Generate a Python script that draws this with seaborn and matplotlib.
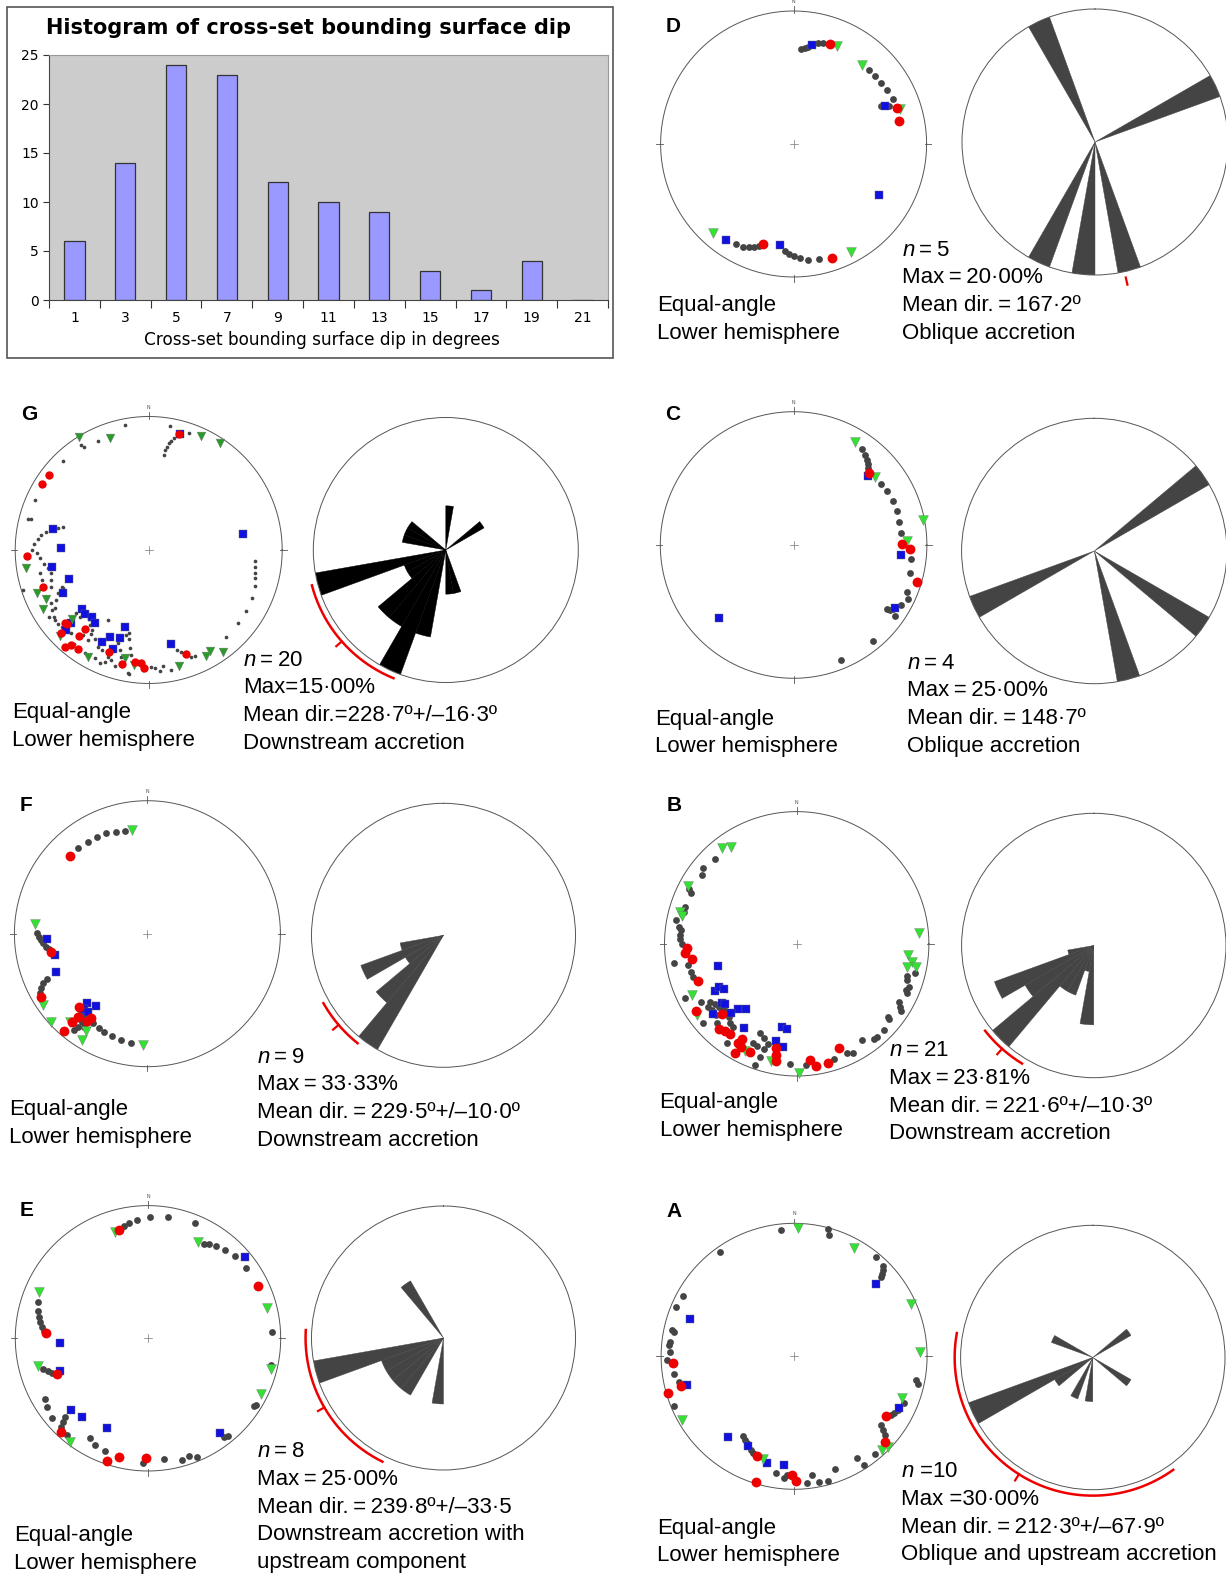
import numpy as np
import pandas as pd
import matplotlib
matplotlib.use("Agg")
import matplotlib.pyplot as plt
import seaborn as sns
from matplotlib.patches import Rectangle

# ---------------- histogram data ----------------
dip_bins = ['1', '3', '5', '7', '9', '11', '13', '15', '17', '19', '21']
dip_counts = [6, 14, 24, 23, 12, 10, 9, 3, 1, 4, 0]

# ---------------- stereonet data (trend, plunge) ----------------
D_GRAY = [(4.5, 19), (6.6, 18), (8.3, 17), (11, 15), (13.6, 14), (16.5, 13.5),
          (45.8, 13), (50, 13), (55, 12.4), (60.2, 12), (65.7, 11.5),
          (66.5, 19), (67.2, 17.5), (67.8, 16), (68.4, 14.5),
          (210, 8), (206, 8.6), (203.6, 9.6), (200.9, 10.9), (198.6, 12),
          (184.4, 12.4), (182.4, 11), (180, 9.6), (176.8, 8.8), (172.8, 7.6), (167.8, 6.8)]
D_RED = [(20, 12.7), (70.9, 11), (77.7, 11.8), (197, 13.5), (161.3, 5.8)]
D_BLUE = [(10.3, 16), (67.5, 16.5), (121, 16.3), (215, 7.2), (187.8, 15)]
D_GREEN = [(24, 12), (40.8, 13.5), (71.8, 9.6), (222.1, 6), (152, 5)]

C_GRAY = [(35.4, 7.2), (38.3, 8.6), (40.6, 9.8), (42.4, 11), (44.3, 12.5), (55.2, 12.5), (60, 12),
          (65.9, 11.7), (71.6, 11.6), (77.6, 11.8), (83.4, 11.8), (97, 6.8), (103.7, 6), (112.4, 5),
          (115.3, 3.1), (119, 4.5), (121.9, 6), (124.6, 9.2), (123.7, 7.8), (122.9, 7), (125.1, 4.4),
          (140.4, 4), (157.6, 4)]
C_RED = [(46.5, 14), (89.4, 11.8), (92, 7.8), (106.8, 2)]
C_BLUE = [(47.3, 15.2), (95.2, 12), (121.9, 6.2), (225.8, 14)]
C_GREEN = [(30.9, 5.8), (50.3, 13), (79, 0.8), (87.8, 9.4)]

G_GRAY = [(349.4, 2.8), (9.9, 3.4), (19, 4.3), (335, 6), (327.2, 3.6), (327.8, 5.5), (316.2, 4.4),
          (293.7, 4.1), (284.4, 4), (284.8, 5.5),
          (12.6, 8.8), (11.7, 10.5), (10.8, 11.8), (10, 13.7), (9.5, 15.6), (9, 18.6),
          (95.9, 12.6), (98.9, 12.2), (102, 11.5), (104.8, 10.9), (108.9, 9.8), (114.7, 9),
          (121.9, 8.5), (129.3, 8.2), (138.3, 7.7), (158.5, 8.3),
          (164.4, 14.3), (162.3, 12.4), (156.5, 8.3),
          (177.1, 6.9), (173, 7.6), (169.3, 5.1), (189.2, 3.6),
          (283.8, 20.2), (285.2, 22.5),
          (280.1, 14.1), (277.9, 11.9), (275.5, 10.2), (273, 8.7), (270, 7.7), (268.3, 10),
          (265.6, 11.4), (262.4, 13.3), (259.7, 15), (256.6, 16), (253, 15), (249.5, 14),
          (247.2, 19.5), (245.9, 19.8), (244.5, 16), (241.6, 13.6), (238.2, 11), (234.8, 8.3),
          (241.4, 10.3), (238.2, 9.3), (233.3, 7.5), (230.7, 7.6), (228.7, 8),
          (252.3, 0.8), (236, 6.1), (225.8, 6.1), (218.4, 6.2), (211.8, 5.4), (206.4, 6), (201.5, 6),
          (228.8, 18.5), (225.7, 18.4), (220.9, 21), (218.2, 19.1), (215.6, 17.3),
          (214.5, 15.6), (210.8, 14.1), (214, 11.9), (217.7, 12.4), (207.7, 11.5), (205.2, 10.6),
          (200.9, 9), (198.7, 8), (198.2, 17.6), (196.2, 14), (194.4, 11), (194.7, 23.3),
          (193.5, 25), (192.6, 21.2), (190.9, 16.3), (189.7, 12.9),
          (222.9, 9.3), (254.4, 10.4), (257.9, 10.4),
          (189.5, 3.8), (182.7, 6), (178.7, 7.3), (174.8, 5.5), (196.2, 5.5), (203.4, 4.5), (210, 27.5)]
G_RED = [(14.6, 6.2), (307, 3.7), (301.7, 3.8), (267.4, 5.4), (250.6, 10), (228.8, 10.4), (227.7, 11),
         (226.6, 5.6), (218.9, 15.5), (219, 10.5), (219.2, 5), (220.6, 2.4), (215.5, 5.3),
         (201.5, 11.4), (193.2, 7.4), (186.8, 9.8), (184, 9.3), (182.3, 6.9), (160.5, 10.7)]
G_BLUE = [(15.3, 6), (80.5, 19), (282.1, 17.5), (271.5, 23.6), (260.3, 17.4), (250.4, 25), (243.4, 18.7),
          (228.3, 22.6), (225, 22), (220, 23.5), (216.4, 21.5), (226.8, 13.1), (226, 8.5), (197.2, 27.5),
          (203.9, 19.3), (207, 14.8), (197.8, 20.5), (199.9, 13.7), (166.8, 18.5)]
G_GREEN = [(328.3, 0.5), (341.1, 6.8), (24.5, 3.7), (33.7, 2), (261.5, 4.2), (248.7, 6.4), (244.4, 9.3),
           (240.7, 5.6), (227.7, 14.6), (226, 4.4), (209.6, 4.9), (192.3, 11), (187.4, 8), (165.6, 6),
           (151.8, 6), (148.5, 7), (144, 3.5)]

F_GRAY = [(321.1, 10.8), (327, 10.9), (332.7, 11.2), (337.8, 11.6), (342.9, 12.5), (347.5, 13.1),
          (270.6, 10.7), (268.4, 11.7), (266.6, 12.7), (264.7, 13.6), (262.7, 15), (261, 16.3),
          (245.5, 10.7), (244.5, 8.1), (242.8, 6), (240.9, 4.6),
          (219.6, 14.2), (217.3, 13.2), (216.5, 10.7), (216.9, 7.7), (217.4, 5.3), (214.1, 9.6), (218.4, 11.3),
          (211.2, 13.9), (207.5, 13), (203.7, 12), (199.1, 11.6), (193.9, 11), (188.5, 10.3)]
F_RED = [(315, 10.8), (259, 17.2), (239.4, 4.1), (220.7, 2.2), (223, 15.9), (220, 11.6), (220.4, 8),
         (213.8, 15.2), (214.9, 12.9)]
F_BLUE = [(267.1, 15.9), (257.2, 19), (247.3, 16.6), (221.3, 20.7), (215.4, 22.8), (219.8, 16.9), (216.9, 17)]
F_GREEN = [(351.7, 13.5), (274.8, 9.5), (235.5, 2.9), (227.6, 1.1), (221.4, 7.1), (182.3, 10.1),
           (211.7, 3.5), (212.5, 8.3)]

B_GRAY = [(316, 6.5), (308.8, 5.2), (305.9, 6.8), (296.9, 5.1), (295.5, 6.9), (288.4, 6.7), (285.9, 7),
          (281.1, 4), (278.3, 5.9), (276.8, 7), (274.4, 7.2), (272.2, 7.3), (270, 7.9), (261.3, 3.5),
          (259, 10.1), (255.2, 10.7), (252.4, 11.3), (243.9, 3.7), (229.8, 4.1), (234.6, 11.3), (232, 11.8),
          (228.7, 11.6), (224.9, 9.3), (215.1, 4.7), (199.1, 1.7), (198, 6.2), (197.3, 10.2), (196.1, 13.3),
          (203.8, 11.2), (201.5, 10.8), (238.9, 9.4), (236.2, 13.5), (233.7, 15), (230.9, 16), (228, 17),
          (222.8, 15.7), (219.8, 13.9), (217.1, 13.2), (183.3, 5.4), (175.4, 4.8), (162, 4.8), (155, 5.5),
          (152.7, 4.4), (145.7, 7.3), (140.9, 4), (139.4, 4), (134.5, 4.2), (129.2, 5.8), (128.5, 7),
          (121.3, 5), (122.6, 3.7), (119.4, 6.6), (112.9, 6.4), (114.3, 5.2), (111, 5.6), (106.4, 8),
          (108, 7.4), (103.7, 4.6), (202.2, 17.8), (199.1, 15.8)]
B_RED = [(267.7, 10.5), (265.1, 9.5), (261.6, 12.9), (249.3, 13), (236.5, 5.1), (226.6, 14.4), (222.5, 7.7),
         (219.5, 9.2), (216.3, 9.5), (209.6, 10.5), (210.6, 7.6), (208.5, 7), (209.6, 3.2), (203.3, 6.7),
         (191.3, 12.2), (190.6, 8.8), (190.1, 6.1), (173.7, 7.1), (171.1, 3.8), (165.5, 3.9), (158.1, 9.1)]
B_BLUE = [(254.4, 26.7), (240.2, 19), (240.6, 22.3), (238.2, 24), (231.6, 18.7), (230, 19.5), (222.3, 23),
          (217.6, 26.2), (223.5, 18.6), (230, 10.8), (212.2, 16), (190.2, 24.5), (186.5, 23.8),
          (192.2, 16.3), (187.3, 13.4)]
B_GREEN = [(322, 4.9), (326, 6.9), (298, 4), (285, 5), (283.7, 6.6), (85.1, 4.3), (95.7, 9.3), (98.8, 7.1),
           (100.9, 4.9), (102.1, 9.3), (244, 7.1), (234.6, 4.2), (206, 6), (192.3, 5.7), (179, 1.4)]

E_GRAY = [(347.9, 8.3), (350.6, 7.4), (354.6, 6.2), (0.9, 5), (9.2, 4.2), (22.2, 3.5),
          (30.6, 10.7), (33.1, 9.4), (36.4, 8.3), (41, 7.2), (46.7, 6.1), (54.4, 5.6), (86.9, 4),
          (102.3, 3.1), (121.8, 2.6), (122.6, 3.1), (142.3, 3.7), (140.7, 2.9),
          (288.4, 7.6), (284.1, 8.8), (280.9, 10), (278.4, 11), (276.3, 12.3), (274.2, 13.6),
          (253.5, 11), (251.6, 13.2), (250.3, 14.7),
          (239.3, 5.9), (235.8, 4.5), (230.2, 3.4), (226.5, 8.7), (225.6, 6.1), (224.6, 3.8), (220, 2.8),
          (209.9, 8), (206.3, 6.2), (200.8, 5.6), (182.4, 3.6), (172.6, 4.8), (164.5, 2.9), (160.6, 3.5),
          (157.6, 1.7)]
E_RED = [(345, 9.6), (64.5, 5), (272.8, 14.6), (248.6, 17.2), (223, 2.2), (198.4, 1.6), (193.7, 4.6), (181, 5.7)]
E_BLUE = [(49.9, 2.6), (142.8, 6), (267.2, 22.7), (249.4, 19.2), (227.1, 13.3), (219.9, 14.8), (204.9, 16.8)]
E_GREEN = [(342.8, 10.2), (27.5, 11.3), (75.8, 4.7), (104.2, 2.7), (116.5, 3.1), (293.2, 6.4), (255.9, 8.8), (217, 1)]

A_GRAY = [(354.3, 2.6), (14.9, 0.7), (16, 3), (324.6, 2), (39.5, 2.1), (44.4, 2.9), (45.9, 4), (47, 5.5),
          (47.8, 7), (298.6, 2.8), (292.9, 2.3), (282.2, 3.7), (281.6, 4.7), (276.7, 3.4), (275.1, 3.1),
          (272.2, 4.1), (268.3, 2.4), (261.5, 5.3), (257.3, 6.6), (247.3, 1.3), (101, 4), (102.5, 2.5),
          (113.2, 6.3), (117.3, 7.3), (119.4, 8.4), (121.3, 9.3), (128.2, 10.4), (129.6, 8), (130.9, 5.8),
          (140.4, 2.8), (148.4, 6), (147.4, 1.7), (160.3, 5.8), (164.8, 1.8), (168.9, 2.3), (171.3, 5.9),
          (174.2, 2.6), (184.6, 4.8), (183.5, 6.4), (189, 6.6), (212.4, 19), (210.4, 17.9), (208.5, 16.7),
          (204.9, 14.2), (202.8, 13.2)]
A_RED = [(266.7, 5.5), (255.4, 7.3), (253.9, 0.7), (123, 11), (133.5, 3.5), (200.2, 12.8), (181.2, 6.5),
         (178.9, 3.9), (197.1, 0.8)]
A_BLUE = [(48.8, 11.2), (289.6, 10.8), (255, 10.6), (116.4, 7.3), (219.1, 13.7), (207.2, 15.7), (194, 10.7), (185.2, 11)]
A_GREEN = [(1.9, 2.2), (29, 4.3), (66, 2.3), (88, 3.2), (111.3, 8), (134, 1.3), (136.7, 1.9), (196.8, 12.1), (240.3, 1.9)]

# ---------------- rose data: bin start (deg) and percentage ----------------
D_ROSE_BIN = [330, 60, 200, 180, 160]
D_ROSE_PCT = [20, 20, 20, 20, 20]
C_ROSE_BIN = [50, 240, 120, 160]
C_ROSE_PCT = [25, 25, 25, 25]
G_ROSE_BIN = [0, 50, 280, 290, 300, 250, 240, 230, 220, 210, 200, 190, 160, 170]
G_ROSE_PCT = [5, 5, 5, 5, 5, 15, 5, 5, 10, 10, 15, 10, 5, 5]
F_ROSE_BIN = [250, 240, 230, 220, 210]
F_ROSE_PCT = [11.11, 22.22, 11.11, 22.22, 33.33]
B_ROSE_BIN = [250, 240, 230, 220, 210, 200, 190, 180]
B_ROSE_PCT = [4.76, 19.05, 14.29, 23.81, 9.52, 9.52, 4.76, 14.29]
E_ROSE_BIN = [320, 250, 240, 230, 220, 210, 180]
E_ROSE_PCT = [12.5, 25, 12.5, 12.5, 12.5, 12.5, 12.5]
A_ROSE_BIN = [240, 230, 290, 50, 120, 200, 180]
A_ROSE_PCT = [30, 10, 10, 10, 10, 10, 10]

T = '\u2009'  # thin space as in the original labels
D_TEXT = [f'$n${T}={T}5', f'Max{T}={T}20·00%', f'Mean dir.{T}={T}167·2º', 'Oblique accretion']
G_TEXT = [f'$n${T}={T}20', 'Max=15·00%', 'Mean dir.=228·7º+/–16·3º', 'Downstream accretion']
C_TEXT = [f'$n${T}={T}4', f'Max{T}={T}25·00%', f'Mean dir.{T}={T}148·7º', 'Oblique accretion']
F_TEXT = [f'$n${T}={T}9', f'Max{T}={T}33·33%', f'Mean dir.{T}={T}229·5º+/–10·0º', 'Downstream accretion']
B_TEXT = [f'$n${T}={T}21', f'Max{T}={T}23·81%', f'Mean dir.{T}={T}221·6º+/–10·3º', 'Downstream accretion']
E_TEXT = [f'$n${T}={T}8', f'Max{T}={T}25·00%', f'Mean dir.{T}={T}239·8º+/–33·5', 'Downstream accretion with',
          'upstream component']
A_TEXT = [f'$n$ =10', 'Max =30·00%', f'Mean dir.{T}={T}212·3º+/–67·9º', 'Oblique and upstream accretion']

plt.rcParams['font.family'] = ['Liberation Sans', 'DejaVu Sans']
plt.rcParams['mathtext.fontset'] = 'custom'
plt.rcParams['mathtext.it'] = 'Liberation Sans:italic'
plt.rcParams['mathtext.rm'] = 'Liberation Sans'

W, H = 1226, 1576
fig = plt.figure(figsize=(W / 100, H / 100), dpi=100)


def box(left, top, right, bottom):
    return [left / W, 1 - bottom / H, (right - left) / W, (bottom - top) / H]


def ftext(x, y, s, **kw):
    fig.text(x / W, 1 - y / H, s, **kw)


# ---------------- histogram ----------------
ax = fig.add_axes(box(49, 55, 608, 300))
df = pd.DataFrame({'dip': dip_bins, 'count': dip_counts})
sns.barplot(data=df, x='dip', y='count', order=dip_bins, color='#9999ff', saturation=1,
            edgecolor='#333333', linewidth=0.9, width=0.4, ax=ax)
ax.set_facecolor('#cccccc')
ax.set_xlim(-0.5, 10.5)
ax.set_ylim(0, 25)
ax.set_yticks(range(0, 26, 5))
ax.set_xticks(np.arange(-0.5, 11, 1))
ax.set_xticklabels([])
ax.set_xticks(range(11), minor=True)
ax.set_xticklabels(dip_bins, minor=True, family='DejaVu Sans')
ax.tick_params(axis='x', which='major', length=6, color='#333333')
ax.tick_params(axis='x', which='minor', length=0, labelsize=10, pad=8)
ax.tick_params(axis='y', length=4, labelsize=10, color='#333333')
for lab in ax.get_yticklabels():
    lab.set_family('DejaVu Sans')
ax.set_xlabel('')
ax.set_ylabel('')
for s in ['left', 'bottom']:
    ax.spines[s].set_color('#444444')
for s in ['top', 'right']:
    ax.spines[s].set_color('#999999')
ftext(309, 28, 'Histogram of cross-set bounding surface dip', ha='center', va='center',
      fontsize=15, fontweight='bold', family='DejaVu Sans')
ftext(322, 340, 'Cross-set bounding surface dip in degrees', ha='center', va='center',
      fontsize=12.2, family='DejaVu Sans')
fig.add_artist(Rectangle((7 / W, 1 - 358 / H), 606 / W, 351 / H, transform=fig.transFigure,
                         fill=False, edgecolor='#555555', lw=1.2))


# ---------------- stereonets and roses ----------------
def project(pts):
    a = np.array(pts, dtype=float).reshape(-1, 2)
    r = np.tan(np.radians(45 - a[:, 1] / 2))
    t = np.radians(a[:, 0])
    return r * np.sin(t), r * np.cos(t)


def stereonet(cx, cy, r, gray, red, blue, green, dense=False):
    pad = 1.15
    ax = fig.add_axes(box(cx - pad * r, cy - pad * r, cx + pad * r, cy + pad * r))
    ax.set_xlim(-pad, pad)
    ax.set_ylim(-pad, pad)
    ax.set_aspect('equal')
    ax.axis('off')
    t = np.linspace(0, 2 * np.pi, 400)
    ax.plot(np.cos(t), np.sin(t), color='#555555', lw=0.7)
    for a in np.radians([0, 90, 180, 270]):
        ax.plot([0.985 * np.sin(a), 1.035 * np.sin(a)], [0.985 * np.cos(a), 1.035 * np.cos(a)],
                color='#555555', lw=0.6)
    ax.plot([-0.03, 0.03], [0, 0], color='#777777', lw=0.5)
    ax.plot([0, 0], [-0.03, 0.03], color='#777777', lw=0.5)
    ax.text(0, 1.07, 'N', ha='center', va='center', fontsize=3.5, color='#444444')
    if dense:
        sg, sr, sb, sv, gcol = 7, 36, 32, 40, '#2a9a2a'
    else:
        sg, sr, sb, sv, gcol = 24, 50, 36, 50, '#33e033'
    x, y = project(gray)
    ax.scatter(x, y, s=sg, color='#444444', linewidths=0, zorder=3)
    x, y = project(blue)
    ax.scatter(x, y, s=sb, marker='s', color='#1010e0', edgecolors='#666666', linewidths=0.3, zorder=4)
    x, y = project(green)
    ax.scatter(x, y, s=sv, marker='v', color=gcol, edgecolors='#777777', linewidths=0.3, zorder=4)
    x, y = project(red)
    ax.scatter(x, y, s=sr, color='#ee0000', linewidths=0, zorder=5)


def rose(cx, cy, r, bins, pct, rmax, mean=None, hw=None, color='#444444'):
    ax = fig.add_axes(box(cx - r, cy - r, cx + r, cy + r), projection='polar')
    ax.set_theta_zero_location('N')
    ax.set_theta_direction(-1)
    ax.bar(np.radians(np.array(bins) + 5), pct, width=np.radians(10), color=color,
           edgecolor=color, linewidth=0.3)
    ax.set_ylim(0, rmax)
    ax.grid(False)
    ax.set_xticks([])
    ax.set_yticks([])
    ax.spines['polar'].set_color('#555555')
    ax.spines['polar'].set_linewidth(0.7)
    if mean is not None:
        if hw:
            th = np.radians(np.linspace(mean - hw, mean + hw, 200))
            ax.plot(th, np.full_like(th, 1.045 * rmax), color='#ee0000', lw=1.8, clip_on=False)
        ax.plot([np.radians(mean)] * 2, [1.045 * rmax, 1.10 * rmax], color='#ee0000', lw=1.6,
                clip_on=False)


def texts(letter, lab, eq, sx, sy, lines):
    ftext(lab[0], lab[1], letter, ha='center', va='center', fontsize=15, fontweight='bold')
    ftext(eq[0], eq[1], 'Equal-angle', ha='left', va='center', fontsize=16)
    ftext(eq[0], eq[1] + 27.5, 'Lower hemisphere', ha='left', va='center', fontsize=16)
    for i, s in enumerate(lines):
        ftext(sx, sy + 27.7 * i, s, ha='left', va='center', fontsize=16)


# D
stereonet(793.6, 144, 133, D_GRAY, D_RED, D_BLUE, D_GREEN)
rose(1095, 142, 133, D_ROSE_BIN, D_ROSE_PCT, 20, mean=167.2, hw=0)
texts('D', (673, 27), (657, 306), 902, 250, D_TEXT)
# G
stereonet(148.7, 550, 133.5, G_GRAY, G_RED, G_BLUE, G_GREEN, dense=True)
rose(445.8, 550, 132.5, G_ROSE_BIN, G_ROSE_PCT, 15, mean=228.7, hw=26.5, color='#000000')
texts('G', (29, 415), (12, 712.7), 243, 660, G_TEXT)
# C
stereonet(793.6, 545, 133.3, C_GRAY, C_RED, C_BLUE, C_GREEN)
rose(1094.3, 551, 132.7, C_ROSE_BIN, C_ROSE_PCT, 25)
texts('C', (673, 415), (655, 719.3), 906.7, 663.3, C_TEXT)
# F
stereonet(147.4, 933.7, 133, F_GRAY, F_RED, F_BLUE, F_GREEN)
rose(443.5, 935.3, 132, F_ROSE_BIN, F_ROSE_PCT, 33.33, mean=229.5, hw=11)
texts('F', (26, 806), (8.7, 1110), 257, 1057.3, F_TEXT)
# B
stereonet(796.7, 943.8, 132.2, B_GRAY, B_RED, B_BLUE, B_GREEN)
rose(1093.8, 945.5, 132.2, B_ROSE_BIN, B_ROSE_PCT, 23.81, mean=221.6, hw=10.3)
texts('B', (674, 806), (659.5, 1102.7), 889, 1050.7, B_TEXT)
# E
stereonet(148, 1338.3, 132.7, E_GRAY, E_RED, E_BLUE, E_GREEN)
rose(443.5, 1338, 132, E_ROSE_BIN, E_ROSE_PCT, 25, mean=239.8, hw=33.5)
texts('E', (27, 1210.7), (13.9, 1536), 257, 1451.7, E_TEXT)
# A
stereonet(794.1, 1356.3, 133, A_GRAY, A_RED, A_BLUE, A_GREEN)
rose(1092.8, 1357.5, 132.2, A_ROSE_BIN, A_ROSE_PCT, 30, mean=212.3, hw=67.9)
texts('A', (674, 1211.7), (656.9, 1528.3), 901, 1471.7, A_TEXT)

fig.savefig('out.png', dpi=100, facecolor='white')
